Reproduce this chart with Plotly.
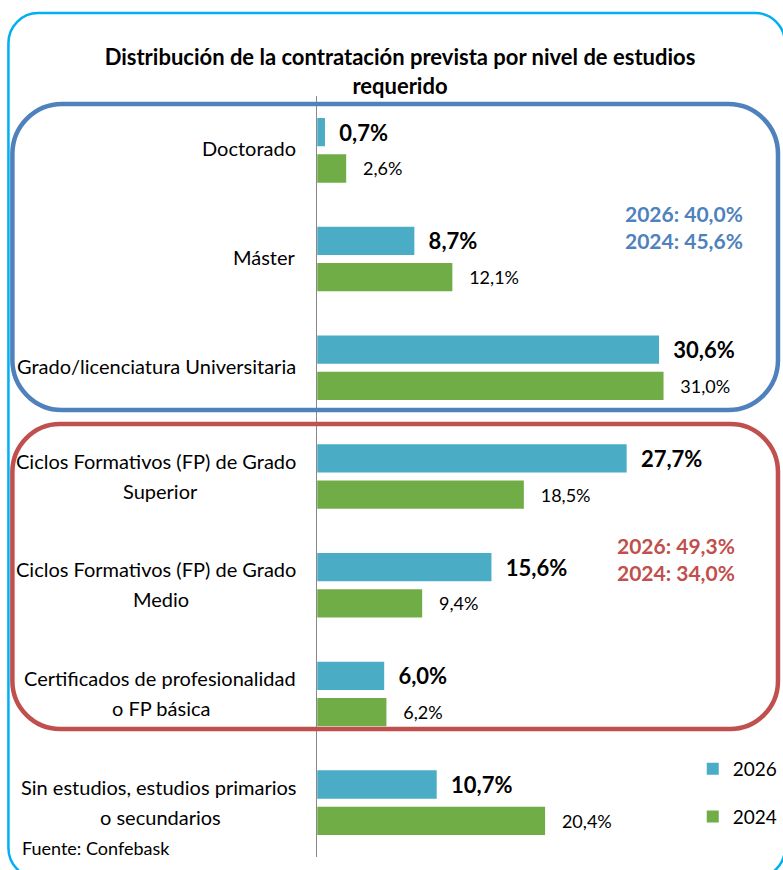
import plotly.graph_objects as go

W, H = 783, 870
FONT = "Lato, Carlito, Calibri, sans-serif"

categories = [
    "Doctorado",
    "Máster",
    "Grado/licenciatura Universitaria",
    "Ciclos Formativos (FP) de Grado<br>Superior",
    "Ciclos Formativos (FP) de Grado<br>Medio",
    "Certificados de profesionalidad<br>o FP básica",
    "Sin estudios, estudios primarios<br>o secundarios",
]
values_2026 = [0.7, 8.7, 30.6, 27.7, 15.6, 6.0, 10.7]
values_2024 = [2.6, 12.1, 31.0, 18.5, 9.4, 6.2, 20.4]
series_names = ["2026", "2024"]
group_notes = [
    ("2026: 40,0%<br>2024: 45,6%", "#4F81BD"),
    ("2026: 49,3%<br>2024: 34,0%", "#C0504D"),
]
title_text = "Distribución de la contratación prevista por nivel de estudios<br>requerido"
source_text = "Fuente: Confebask"


def px(x):
    return x / W


def py(y):
    return 1 - y / H


def rrect(x0, y0, x1, y1, r):
    k = 0.45 * r
    pts = [
        f"M {px(x0 + r)} {py(y0)}",
        f"L {px(x1 - r)} {py(y0)}",
        f"C {px(x1 - k)} {py(y0)} {px(x1)} {py(y0 + k)} {px(x1)} {py(y0 + r)}",
        f"L {px(x1)} {py(y1 - r)}",
        f"C {px(x1)} {py(y1 - k)} {px(x1 - k)} {py(y1)} {px(x1 - r)} {py(y1)}",
        f"L {px(x0 + r)} {py(y1)}",
        f"C {px(x0 + k)} {py(y1)} {px(x0)} {py(y1 - k)} {px(x0)} {py(y1 - r)}",
        f"L {px(x0)} {py(y0 + r)}",
        f"C {px(x0)} {py(y0 + k)} {px(x0 + k)} {py(y0)} {px(x0 + r)} {py(y0)}",
        "Z",
    ]
    return " ".join(pts)


fig = go.Figure()
fig.add_trace(go.Bar(
    y=categories, x=values_2026, name=series_names[0], orientation="h",
    marker=dict(color="#4BACC6", line=dict(width=0)),
    text=values_2026, texttemplate="\u00a0\u00a0<b>%{x:.1f}%</b>",
    textposition="outside", textfont=dict(size=22, color="#000000", family=FONT),
    cliponaxis=False, constraintext="none", legendgroup="a",
))
fig.add_trace(go.Bar(
    y=categories, x=values_2024, name=series_names[1], orientation="h",
    marker=dict(color="#70AD47", line=dict(width=0)),
    text=values_2024, texttemplate="\u00a0\u00a0\u00a0%{x:.1f}%",
    textposition="outside", textfont=dict(size=18, color="#000000", family=FONT),
    cliponaxis=False, constraintext="none", legendgroup="b",
))

shapes = [
    dict(type="path", xref="paper", yref="paper", path=rrect(8.5, 13, 792, 878, 30),
         line=dict(color="#00B0F0", width=2.5), layer="below"),
    dict(type="path", xref="paper", yref="paper", path=rrect(12.5, 104, 785, 410, 50),
         line=dict(color="#4F81BD", width=4.5), layer="above"),
    dict(type="path", xref="paper", yref="paper", path=rrect(12.5, 424, 785, 729, 48),
         line=dict(color="#C0504D", width=4.5), layer="above"),
]

LBL = 20
annotations = []
for cat in categories:
    lines = cat.split("<br>")
    if len(lines) == 1:
        annotations.append(dict(x=px(301), xref="paper", y=cat, yref="y", text=lines[0],
                                xanchor="right", yanchor="middle", yshift=2, showarrow=False,
                                font=dict(size=LBL, color="#000000", family=FONT)))
    else:
        annotations.append(dict(x=px(301), xref="paper", y=cat, yref="y", text=lines[0],
                                xanchor="right", yanchor="middle", yshift=16, showarrow=False,
                                font=dict(size=LBL, color="#000000", family=FONT)))
        annotations.append(dict(x=px(162), xref="paper", y=cat, yref="y", text=lines[1],
                                xanchor="center", yanchor="middle", yshift=-14, showarrow=False,
                                font=dict(size=LBL, color="#000000", family=FONT)))

note_pos = [(752, 227), (744, 559)]
for (txt, col), (nx, ny) in zip(group_notes, note_pos):
    annotations.append(dict(x=px(nx), xref="paper", y=py(ny), yref="paper", text=f"<b>{txt}</b>",
                            xanchor="right", yanchor="middle", align="right", showarrow=False,
                            font=dict(size=21, color=col, family=FONT)))

annotations.append(dict(x=px(20), xref="paper", y=py(848), yref="paper", text=source_text,
                        xanchor="left", yanchor="middle", showarrow=False,
                        font=dict(size=18, color="#000000", family=FONT)))

fig.update_layout(
    width=W, height=H,
    margin=dict(l=0, r=0, t=0, b=0),
    paper_bgcolor="#FFFFFF", plot_bgcolor="rgba(0,0,0,0)",
    separators=",.",
    font=dict(family=FONT, color="#000000"),
    title=dict(text=f"<b>{title_text}</b>", x=px(400), xanchor="center",
               y=py(65), yanchor="middle", yref="container",
               font=dict(size=22, color="#000000", family=FONT)),
    barmode="group", bargap=0.333, bargroupgap=0.22,
    xaxis=dict(domain=[px(320), px(771)], range=[0, 40], visible=False, fixedrange=True),
    yaxis=dict(domain=[py(857), py(96)], autorange="reversed", showticklabels=False,
               showline=True, linecolor="#888888", linewidth=1, ticks="", showgrid=False,
               zeroline=False, fixedrange=True),
    legend=dict(x=px(699), y=py(750), xanchor="left", yanchor="top",
                font=dict(size=19, color="#000000", family=FONT),
                bgcolor="rgba(0,0,0,0)", traceorder="grouped", tracegroupgap=20),
    shapes=shapes,
    annotations=annotations,
)

fig.write_html("out.html", config={"displayModeBar": False},
               post_script="document.body.style.margin='0';document.body.style.overflow='hidden';")
